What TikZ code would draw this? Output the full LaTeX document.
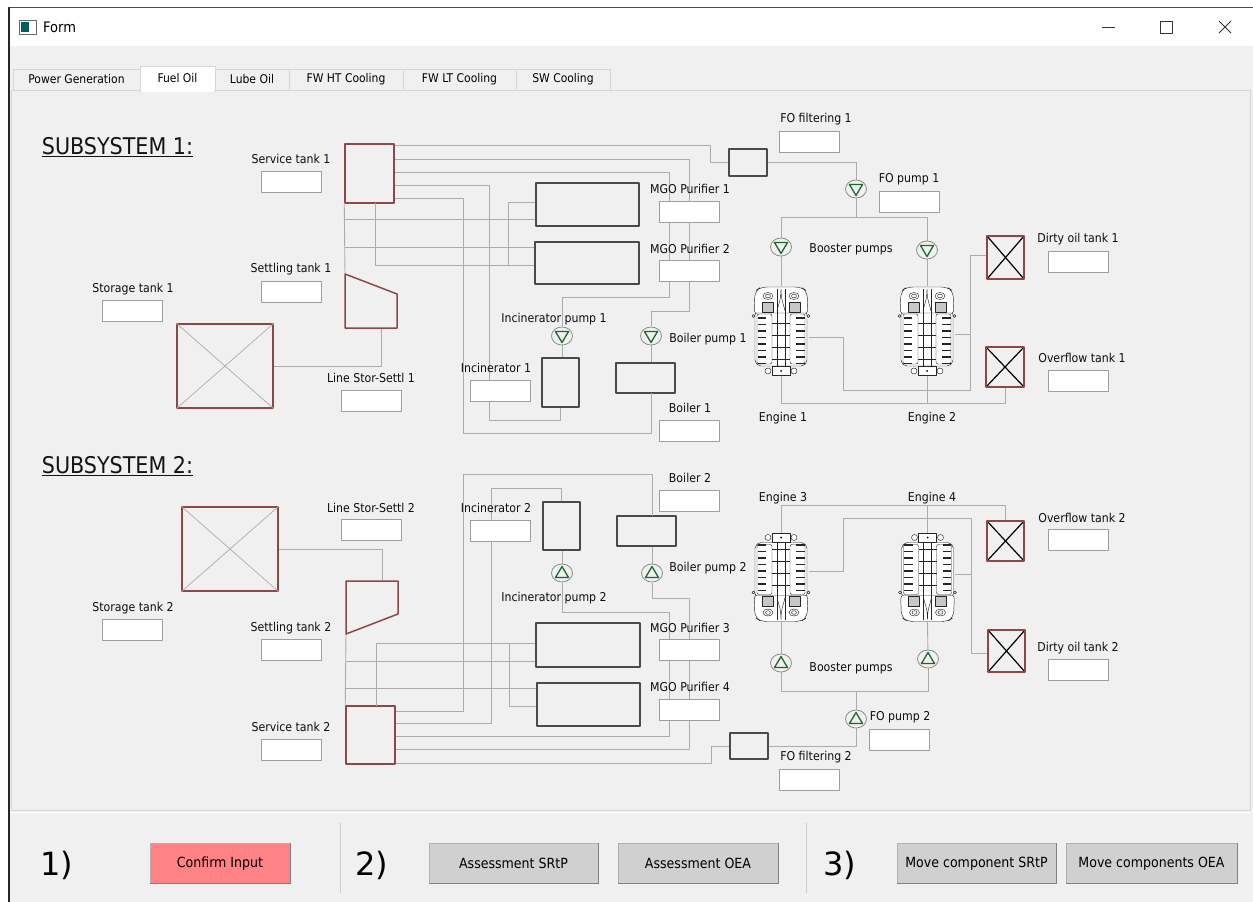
\documentclass[tikz,border=0pt]{standalone}
\usepackage{fontspec}
\setmainfont{DejaVu Sans}
\newfontfamily\cond{DejaVu Sans Condensed}
\usetikzlibrary{calc,shapes.geometric}
\definecolor{winbg}{RGB}{240,240,240}
\definecolor{tankred}{RGB}{140,72,72}
\definecolor{pipegray}{RGB}{172,172,172}
\definecolor{boxgray}{RGB}{70,76,76}
\definecolor{pumpgreen}{RGB}{28,105,48}
\definecolor{btngray}{RGB}{208,208,208}
\definecolor{btnpink}{RGB}{255,130,135}
\definecolor{tabline}{RGB}{214,214,214}
\tikzset{lab/.style={font=\cond\fontsize{12.2}{12.2}\selectfont, text=black!95, inner sep=0}}
\tikzset{fld/.style={draw=black!38, fill=white, line width=0.9pt, minimum width=60, minimum height=21, inner sep=0}}
\tikzset{head/.style={font=\cond\fontsize{23}{23}\selectfont, text=black!92, inner sep=0}}
\tikzset{tank/.style={draw=tankred, line width=1.5pt, inner sep=0}}
\tikzset{btank/.style={draw=tankred, line width=1.5pt, inner sep=0,
  path picture={\draw[black, line width=1.2pt] (path picture bounding box.north west) -- (path picture bounding box.south east)
    (path picture bounding box.north east) -- (path picture bounding box.south west);}}}
\tikzset{purif/.style={draw=boxgray, line width=1.7pt, inner sep=0}}
\tikzset{pipe/.style={draw=pipegray, line width=0.9pt}}
\tikzset{eng/.style={minimum width=55, minimum height=89, inner sep=0}}
\tikzset{pmpdn/.style={ellipse, draw=black!45, fill=winbg, minimum width=21, minimum height=18, inner sep=0, line width=0.8pt,
  path picture={\draw[pumpgreen, line width=1.3pt] ($(path picture bounding box.center)+(-6.5,-4.5)$) -- ++(13,0) -- ++(-6.5,11) -- cycle;}}}
\tikzset{pmpup/.style={ellipse, draw=black!45, fill=winbg, minimum width=21, minimum height=18, inner sep=0, line width=0.8pt,
  path picture={\draw[pumpgreen, line width=1.3pt] ($(path picture bounding box.center)+(-6.5,4.5)$) -- ++(13,0) -- ++(-6.5,-11) -- cycle;}}}
\tikzset{tab/.style={draw=tabline, fill=winbg, minimum height=21, inner sep=0, font=\cond\fontsize{12}{12}\selectfont}}
\tikzset{btn/.style={draw=black!30, fill=btngray, minimum height=40, inner sep=0, font=\cond\fontsize{14}{14}\selectfont}}
\tikzset{shade/.style={draw=black!50, line width=1pt}}
\tikzset{bignum/.style={font=\fontsize{32}{32}\selectfont, inner sep=0}}
\tikzset{engine/.pic={
  \begin{scope}[line width=0.45pt, draw=black!85]
    \filldraw[fill=white, rounded corners=6] (-27,-16) -- (-26,-40) -- (-20,-44) -- (20,-44) -- (26,-40) -- (27,-16) -- cycle;
    \filldraw[fill=white, rounded corners=2] (-26,-18) -- (-26,31) -- (-22,35) -- (22,35) -- (26,31) -- (26,-18) -- cycle;
    \draw[rounded corners=2] (-24,-17) rectangle (-9,33) (9,-17) rectangle (24,33);
    \draw (-4,-42) -- (-4,37) (4,-42) -- (4,37);
    \draw (-9,-8) -- (9,-8) (-9,4) -- (9,4) (-9,16) -- (9,16) (-9,28) -- (9,28);
    \draw (0,-42) .. controls (0,-30) and (-3,-26) .. (-4,-20) (0,-42) .. controls (0,-30) and (3,-26) .. (4,-20);
    \foreach \y in {-13,-6.5,...,33} {
      \draw[line width=1.6pt] (-23.5,\y) -- (-15,\y) (15,\y) -- (23.5,\y);
    }
    \filldraw[fill=black!22] (-19,-29) rectangle (-8,-19) (8,-29) rectangle (19,-19);
    \filldraw[fill=white] (-13,-35) ellipse (5 and 3.5) (13,-35) ellipse (5 and 3.5);
    \draw (-13,-35) ellipse (2.5 and 1.8) (13,-35) ellipse (2.5 and 1.8);
    \draw (-27.5,-15) circle (1.5) (27.5,-15) circle (1.5);
    \filldraw[fill=white] (-9,35) rectangle (9,44);
    \filldraw[fill=white] (-13,40) circle (3) (13,40) circle (3);
    \fill (0,40) circle (1);
  \end{scope}
}}

\begin{document}
\begin{tikzpicture}[x=1pt,y=-1pt,line join=round]
\useasboundingbox (0,0) rectangle (1253,902);
% window frame
\fill[white] (0,0) rectangle (1253,902);
\fill[winbg] (9,46) rectangle (1253,902);
\draw[black!85, line width=1.5pt] (9,7) -- (9,902);
\draw[black!70, line width=0.8pt] (9,7) -- (1253,7);
\filldraw[draw=black!60, fill=white] (19,20) rectangle (36,34);
\fill[teal!75!black] (21,22) rectangle (29,32);
\node[font=\cond\fontsize{14.5}{14.5}\selectfont, anchor=west, inner sep=0] (title) at (43,27) {Form};
\draw[black!80, line width=0.9pt] (1102,27) -- (1115,27);
\draw[black!80, line width=0.9pt] (1160,21) rectangle (1172,33);
\draw[black!80, line width=0.9pt] (1219,21) -- (1231,33) (1231,21) -- (1219,33);
% tabs
\draw[tabline, line width=0.8pt] (11,90) rectangle (1250,810);
\draw[white, line width=0.8pt] (11,812) -- (1250,812);
\node[tab, minimum width=127] (tpg) at (76.5,79.5) {Power Generation};
\node[tab, minimum width=74] (tlo) at (252,79.5) {Lube Oil};
\node[tab, minimum width=114] (tht) at (346,79.5) {FW HT Cooling};
\node[tab, minimum width=113] (tlt) at (459.5,79.5) {FW LT Cooling};
\node[tab, minimum width=94] (tsw) at (563,79.5) {SW Cooling};
\node[tab, fill=white, minimum width=75, minimum height=25] (tfo) at (177.5,78.5) {Fuel Oil};
\fill[white] (141,89) rectangle (214,91.5);

% ---------------- subsystem 1 ----------------
\node[head] (sub1) at (117.5,147) {\underline{SUBSYSTEM 1:}};
\node[tank, minimum width=49, minimum height=59] (svc1) at (369.5,173.5) {};
\node[tank, minimum width=96, minimum height=84] (sto1) at (225,366) {};
\draw[pipegray, line width=0.7pt] (sto1.north west) -- (sto1.south east) (sto1.north east) -- (sto1.south west);
\coordinate (set1a) at (345,274);
\coordinate (set1b) at (381,328);
\node[purif, minimum width=103, minimum height=43] (mgo1) at (587.5,204.5) {};
\node[purif, minimum width=104, minimum height=42] (mgo2) at (587,263) {};
\node[purif, minimum width=37, minimum height=49] (inc1) at (560.5,382.5) {};
\node[purif, minimum width=59, minimum height=30] (boil1) at (645.5,378) {};
\node[purif, minimum width=38, minimum height=27] (ff1) at (748,162.5) {};
\node[btank, minimum width=37, minimum height=43] (dirty1) at (1005.5,257.5) {};
\node[btank, minimum width=38, minimum height=40] (ovf1) at (1005,367) {};
\node[eng] (eng1) at (781,331) {};
\node[eng] (eng2) at (927,331) {};
% pipes
\draw[pipe] (svc1.east |- 0,145) -- (710,145) |- (ff1.west);
\draw[pipe] (svc1.east |- 0,159) -| (689,311) -| (651,326);
\draw[pipe] (svc1.east |- 0,172) -| (669,297) -| (562,326);
\draw[pipe] (svc1.east |- 0,185) -| (489,420) -| (inc1.south);
\draw[pipe] (svc1.east |- 0,198) -| (463,433) -| (651,393);
\draw[pipe] (svc1.south west) -- (set1a);
\draw[pipe] (345,219) -- (mgo1.west |- 0,219);
\draw[pipe] (345,247) -- (mgo2.west |- 0,247);
\draw[pipe] (375,203) |- (mgo2.west |- 0,265);
\draw[pipe] (508,265) |- (mgo1.west |- 0,202);
\draw[pipe] (sto1.east) -| (set1b);
\draw[pipe] (ff1.east) -| (856,189);
\draw[pipe] (856,189) -- (856,217);
\draw[pipe] (781,247) |- (927,217) -- (927,250);
\draw[pipe] (781,247) -- (eng1.north);
\draw[pipe] (927,250) -- (eng2.north);
\draw[pipe] (eng1.south) |- (ovf1.south |- 0,403) -- (ovf1.south);
\draw[pipe] (eng2.south) -- (eng2.south |- 0,403);
\draw[pipe] (eng1.east |- 0,337) -| (843,390) -| (970,255) -- (dirty1.west |- 0,255);
\draw[pipe] (eng2.east |- 0,334) -- (970,334);
\draw[pipe] (562,336) -- (inc1.north -| 562,0);
\draw[pipe] (651,336) -- (boil1.north -| 651,0);
% pumps, tanks and engines on top of pipes
\node[pmpdn] (ip1) at (562,336) {};
\node[pmpdn] (bp1) at (651,336) {};
\node[pmpdn] (fp1) at (856,189) {};
\node[pmpdn] (bst1) at (781,247) {};
\node[pmpdn] (bst2) at (927,250) {};
\draw[tank] (set1a) -- (397,294) -- (397,328) -- (345,328) -- cycle;
\pic at (eng1) {engine};
\pic at (eng2) {engine};
% labels
\node[lab] (lsvc1) at (291,159) {Service tank 1};
\node[fld] (fsvc1) at (291,181.5) {};
\node[lab] (lset1) at (291,269) {Settling tank 1};
\node[fld] (fset1) at (291,291.5) {};
\node[lab] (lsto1) at (133,289) {Storage tank 1};
\node[fld] (fsto1) at (132,310.5) {};
\node[lab] (lline1) at (371,378) {Line Stor-Settl 1};
\node[fld] (fline1) at (371,400.5) {};
\node[lab] (lmgo1) at (690,189) {MGO Purifier 1};
\node[fld] (fmgo1) at (689,211.5) {};
\node[lab] (lmgo2) at (690,249) {MGO Purifier 2};
\node[fld] (fmgo2) at (689,270.5) {};
\node[lab] (lff1) at (816,119) {FO filtering 1};
\node[fld] (fff1) at (809,141.5) {};
\node[lab] (lfp1) at (909,179) {FO pump 1};
\node[fld] (ffp1) at (909,201.5) {};
\node[lab] (lbst1) at (851,249) {Booster pumps};
\node[lab] (ldirty1) at (1078,239) {Dirty oil tank 1};
\node[fld] (fdirty1) at (1078,261.5) {};
\node[lab] (lovf1) at (1082,358) {Overflow tank 1};
\node[fld] (fovf1) at (1078,381) {};
\node[lab] (lip1) at (554,319) {Incinerator pump 1};
\node[lab] (lbp1) at (708,339) {Boiler pump 1};
\node[lab] (linc1) at (496,368) {Incinerator 1};
\node[fld] (finc1) at (500.5,390.5) {};
\node[lab] (lboil1) at (690,408) {Boiler 1};
\node[fld] (fboil1) at (689,430.5) {};
\node[lab] (leng1) at (783,418) {Engine 1};
\node[lab] (leng2) at (932,418) {Engine 2};

% ---------------- subsystem 2 ----------------
\node[head] (sub2) at (117.5,466) {\underline{SUBSYSTEM 2:}};
\node[tank, minimum width=49, minimum height=58] (svc2) at (370.5,735) {};
\node[tank, minimum width=96, minimum height=84] (sto2) at (230,549) {};
\draw[pipegray, line width=0.7pt] (sto2.north west) -- (sto2.south east) (sto2.north east) -- (sto2.south west);
\coordinate (set2a) at (346,581);
\coordinate (set2b) at (346,634);
\coordinate (set2c) at (382,581);
\node[purif, minimum width=104, minimum height=44] (mgo3) at (588,645) {};
\node[purif, minimum width=103, minimum height=43] (mgo4) at (588.5,704.5) {};
\node[purif, minimum width=37, minimum height=48] (inc2) at (561.5,526) {};
\node[purif, minimum width=59, minimum height=30] (boil2) at (646.5,531) {};
\node[purif, minimum width=38, minimum height=26] (ff2) at (749,746) {};
\node[btank, minimum width=37, minimum height=40] (ovf2) at (1005.5,541) {};
\node[btank, minimum width=37, minimum height=42] (dirty2) at (1006.5,651) {};
\node[eng] (eng3) at (781,577.5) {};
\node[eng] (eng4) at (927.5,577.5) {};
% pipes
\draw[pipe] (svc2.east |- 0,711) -| (463,474) -| (652,516);
\draw[pipe] (svc2.east |- 0,723) -| (491,488) -| (inc2.north);
\draw[pipe] (svc2.east |- 0,736) -| (669,612) -| (562,583);
\draw[pipe] (svc2.east |- 0,749) -| (689,598) -| (652,583);
\draw[pipe] (svc2.east |- 0,763) -| (711,746) -- (ff2.west);
\draw[pipe] (set2b) -- (svc2.north west);
\draw[pipe] (346,661) -- (mgo3.west |- 0,661);
\draw[pipe] (346,688) -- (mgo4.west |- 0,688);
\draw[pipe] (376,706) |- (mgo3.west |- 0,643);
\draw[pipe] (509,643) |- (mgo4.west |- 0,706);
\draw[pipe] (sto2.east) -| (set2c);
\draw[pipe] (ff2.east) -| (856,719);
\draw[pipe] (856,719) -- (856,691);
\draw[pipe] (781,663) |- (928,691) -- (928,659);
\draw[pipe] (781,663) -- (eng3.south);
\draw[pipe] (928,659) -- (eng4.south);
\draw[pipe] (eng3.north) |- (ovf2.north |- 0,505) -- (ovf2.north);
\draw[pipe] (eng4.north) -- (eng4.north |- 0,505);
\draw[pipe] (eng3.east |- 0,571) -| (843,518) -| (971,653) -- (dirty2.west |- 0,653);
\draw[pipe] (eng4.east |- 0,574) -- (971,574);
\draw[pipe] (562,573) -- (inc2.south -| 562,0);
\draw[pipe] (652,573) -- (boil2.south -| 652,0);
% pumps, tanks and engines on top of pipes
\node[pmpup] (ip2) at (562,573) {};
\node[pmpup] (bp2) at (652,573) {};
\node[pmpup] (fp2) at (856,719) {};
\node[pmpup] (bst3) at (781,663) {};
\node[pmpup] (bst4) at (928,659) {};
\draw[tank] (set2a) -- (398,581) -- (398,614) -- (set2b) -- cycle;
\pic[yscale=-1] at (eng3) {engine};
\pic[yscale=-1] at (eng4) {engine};
% labels
\node[lab] (lline2) at (371,508) {Line Stor-Settl 2};
\node[fld] (fline2) at (371,530) {};
\node[lab] (lsto2) at (133,608) {Storage tank 2};
\node[fld] (fsto2) at (132,629.5) {};
\node[lab] (lset2) at (291,628) {Settling tank 2};
\node[fld] (fset2) at (291,649.5) {};
\node[lab] (lsvc2) at (291,727) {Service tank 2};
\node[fld] (fsvc2) at (291,749.5) {};
\node[lab] (linc2) at (496,508) {Incinerator 2};
\node[fld] (finc2) at (500.5,530.5) {};
\node[lab] (lboil2) at (690,478) {Boiler 2};
\node[fld] (fboil2) at (689,500.5) {};
\node[lab] (lbp2) at (708,568) {Boiler pump 2};
\node[lab] (lip2) at (554,598) {Incinerator pump 2};
\node[lab] (lmgo3) at (690,628) {MGO Purifier 3};
\node[fld] (fmgo3) at (689,649.5) {};
\node[lab] (lmgo4) at (690,687) {MGO Purifier 4};
\node[fld] (fmgo4) at (689,709.5) {};
\node[lab] (lff2) at (816,757) {FO filtering 2};
\node[fld] (fff2) at (809,779.5) {};
\node[lab] (lfp2) at (900,717) {FO pump 2};
\node[fld] (ffp2) at (899,739.5) {};
\node[lab] (lbst2) at (851,668) {Booster pumps};
\node[lab] (leng3) at (783,498) {Engine 3};
\node[lab] (leng4) at (932,498) {Engine 4};
\node[lab] (lovf2) at (1082,518) {Overflow tank 2};
\node[fld] (fovf2) at (1078,540) {};
\node[lab] (ldirty2) at (1078,648) {Dirty oil tank 2};
\node[fld] (fdirty2) at (1078,669.5) {};

% ---------------- bottom bar ----------------
\draw[black!20, line width=0.8pt] (340,823) -- (340,893) (806,823) -- (806,893);
\node[bignum] (n1) at (57,865) {1)};
\node[btn, fill=btnpink, minimum width=140] (bconf) at (220,863.5) {Confirm Input};
\node[bignum] (n2) at (372,865) {2)};
\node[btn, minimum width=169] (bsrtp) at (513.5,863.5) {Assessment SRtP};
\node[btn, minimum width=160] (boea) at (698,863.5) {Assessment OEA};
\node[bignum] (n3) at (840,865) {3)};
\node[btn, minimum width=159] (bmsrtp) at (976.5,863.5) {Move component SRtP};
\node[btn, minimum width=171] (bmoea) at (1151.5,863.5) {Move components OEA};
\draw[shade] (bconf.south west) -- (bconf.south east) -- (bconf.north east);
\draw[shade] (bsrtp.south west) -- (bsrtp.south east) -- (bsrtp.north east);
\draw[shade] (boea.south west) -- (boea.south east) -- (boea.north east);
\draw[shade] (bmsrtp.south west) -- (bmsrtp.south east) -- (bmsrtp.north east);
\draw[shade] (bmoea.south west) -- (bmoea.south east) -- (bmoea.north east);
\end{tikzpicture}
\end{document}
